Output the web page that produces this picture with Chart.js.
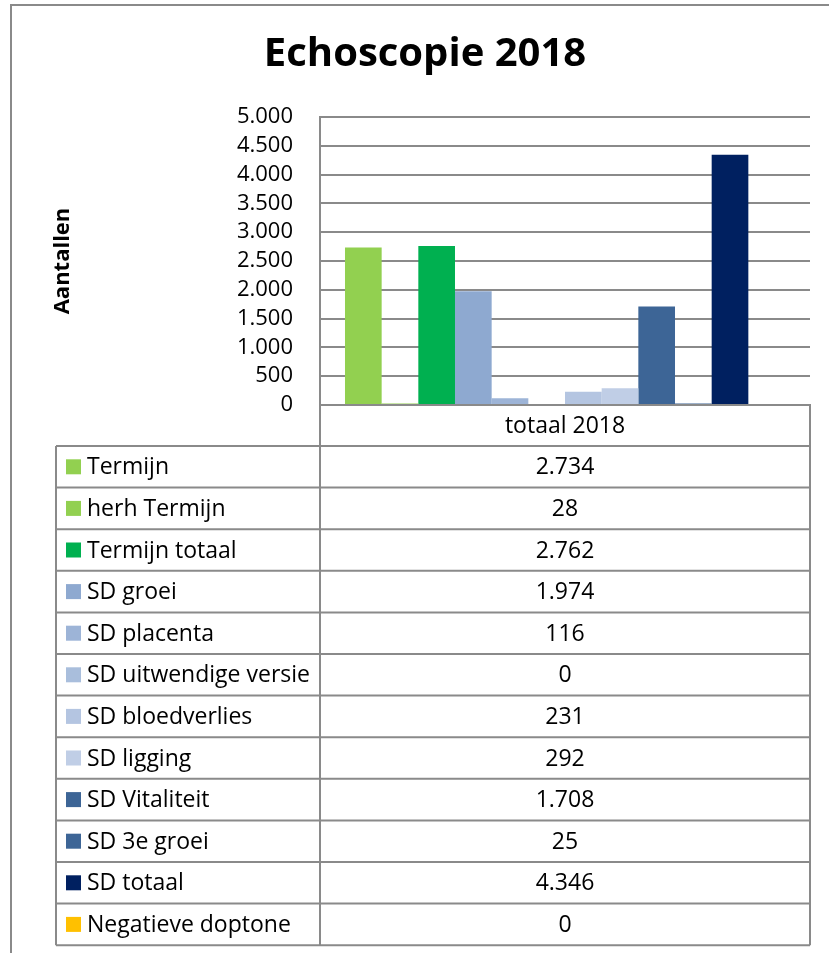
<!DOCTYPE html>
<html>
<head>
<meta charset="utf-8">
<title>Echoscopie 2018</title>
<script src="https://cdn.jsdelivr.net/npm/chart.js@4/dist/chart.umd.min.js"></script>
<style>
    html, body { margin: 0; padding: 0; background: #fff; }
    #wrap { width: 829px; height: 953px; }
</style>
</head>
<body>
<div id="wrap"><canvas id="graphEcho"></canvas></div>
<script>
// Categorie en reeksen
const categories = ['totaal 2018'];
const seriesLabels = [
    'Termijn', 'herh Termijn', 'Termijn totaal', 'SD groei', 'SD placenta',
    'SD uitwendige versie', 'SD bloedverlies', 'SD ligging', 'SD Vitaliteit',
    'SD 3e groei', 'SD totaal', 'Negatieve doptone'
];
const seriesValues = [2734, 28, 2762, 1974, 116, 0, 231, 292, 1708, 25, 4346, 0];
const seriesColors = [
    '#92D050', '#92D050', '#00B050', '#8EA9D0', '#9DB4D7',
    '#A9BEDC', '#B4C5E1', '#C0CEE6', '#3D6596',
    '#3D6596', '#002060', '#FFC000'
];
const yMax = 5000;
const yStep = 500;

const FONT = '"Open Sans", "Noto Sans", sans-serif';
const LINE = '#8A8A8A';

// Getal met punt als duizendtal-scheiding
function fmt(v) {
    return String(v).replace(/\B(?=(\d{3})+(?!\d))/g, '.');
}

// Achtergrond, kader, titel en as-titel
const framePlugin = {
    id: 'frame',
    beforeDraw(chart) {
        const ctx = chart.ctx;
        ctx.save();
        ctx.fillStyle = '#fff';
        ctx.fillRect(0, 0, chart.width, chart.height);
        ctx.strokeStyle = LINE;
        ctx.lineWidth = 2;
        ctx.beginPath();
        ctx.moveTo(11, chart.height);
        ctx.lineTo(11, 5);
        ctx.lineTo(chart.width, 5);
        ctx.stroke();
        ctx.restore();
    },
    afterDraw(chart) {
        const ctx = chart.ctx;
        const area = chart.chartArea;
        ctx.save();
        ctx.fillStyle = '#000';
        ctx.textAlign = 'center';
        ctx.textBaseline = 'middle';
        ctx.font = 'bold 40px ' + FONT;
        ctx.fillText('Echoscopie 2018', 425, 55);

        ctx.translate(63, (area.top + area.bottom) / 2);
        ctx.rotate(-Math.PI / 2);
        ctx.font = 'bold 22px ' + FONT;
        ctx.fillText('Aantallen', 0, 0);
        ctx.restore();
    }
};

// Gegevenstabel onder de grafiek
const tablePlugin = {
    id: 'dataTable',
    afterDraw(chart) {
        const ctx = chart.ctx;
        const area = chart.chartArea;
        const xScale = chart.scales.x;
        const left = 56;
        const split = area.left;
        const right = area.right;
        const labelBottom = area.bottom + 41;
        const rowH = 41.6;
        const n = chart.data.datasets.length;
        const bottom = labelBottom + n * rowH;

        ctx.save();
        ctx.strokeStyle = LINE;
        ctx.lineWidth = 2;
        ctx.beginPath();
        // kolom met categorie
        ctx.moveTo(split, area.bottom);
        ctx.lineTo(split, bottom);
        ctx.moveTo(right, area.bottom);
        ctx.lineTo(right, bottom);
        ctx.moveTo(left, labelBottom);
        ctx.lineTo(left, bottom);
        for (let i = 0; i <= n; i++) {
            const y = labelBottom + i * rowH;
            ctx.moveTo(left, y);
            ctx.lineTo(right, y);
        }
        ctx.stroke();

        const cx = xScale.getPixelForValue(0);
        ctx.font = '23px ' + FONT;
        ctx.textBaseline = 'middle';
        chart.data.datasets.forEach((ds, i) => {
            const cy = labelBottom + i * rowH + rowH / 2;
            ctx.fillStyle = ds.backgroundColor;
            ctx.fillRect(66, cy - 7.5, 15, 15);
            ctx.fillStyle = '#000';
            ctx.textAlign = 'left';
            ctx.fillText(ds.label, 87, cy + 1);
            ctx.textAlign = 'center';
            ctx.fillText(fmt(ds.data[0]), cx, cy + 1);
        });
        ctx.restore();
    }
};

const ctxEcho = document.getElementById('graphEcho').getContext('2d');
new Chart(ctxEcho, {
    type: 'bar',
    data: {
        labels: categories,
        datasets: seriesLabels.map((label, i) => ({
            label: label,
            data: [seriesValues[i]],
            backgroundColor: seriesColors[i],
            categoryPercentage: 0.898,
            barPercentage: 1
        }))
    },
    options: {
        responsive: true,
        maintainAspectRatio: false,
        animation: false,
        layout: { padding: { left: 0, right: 19, top: 117, bottom: 0 } },
        plugins: {
            legend: { display: false },
            tooltip: { enabled: false },
            title: { display: false }
        },
        scales: {
            x: {
                grid: { display: false, drawTicks: false },
                border: { color: LINE, width: 2 },
                ticks: { color: '#000', font: { family: FONT, size: 23 }, padding: 8 },
                afterFit(scale) { scale.height = 953 - 117 - 288; }
            },
            y: {
                min: 0,
                max: yMax,
                grid: { color: LINE, lineWidth: 2, drawTicks: false },
                border: { color: LINE, width: 2 },
                ticks: {
                    stepSize: yStep,
                    autoSkip: false,
                    color: '#000',
                    font: { family: FONT, size: 22 },
                    padding: 27,
                    callback: v => fmt(v)
                },
                afterFit(scale) { scale.width = 320; }
            }
        }
    },
    plugins: [framePlugin, tablePlugin]
});
</script>
</body>
</html>
